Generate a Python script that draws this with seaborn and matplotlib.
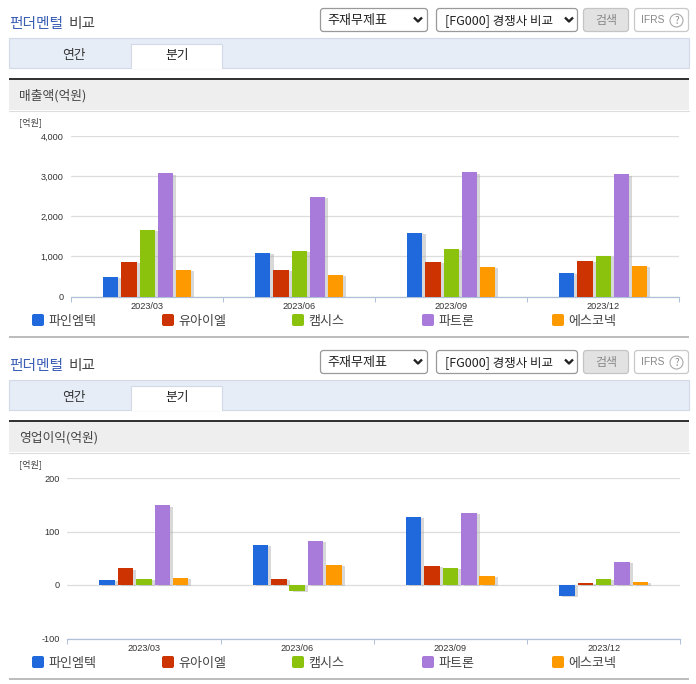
import matplotlib
matplotlib.use("Agg")
import matplotlib.pyplot as plt
import matplotlib.patheffects as pe
from matplotlib.patches import Rectangle, FancyBboxPatch, Circle
import pandas as pd
import seaborn as sns

sns.set_theme(style="white")
plt.rcParams['font.family'] = ['Noto Sans CJK KR', 'DejaVu Sans']

W, H = 696, 684
quarters = ["2023/03", "2023/06", "2023/09", "2023/12"]
companies = ["파인엠텍", "유아이엘", "캠시스", "파트론", "에스코넥"]
colors = ["#2069DD", "#CC3300", "#8AC20E", "#A87AD9", "#FF9900"]

sales_finemtek = [490, 1092, 1592, 592]
sales_uil = [867, 667, 867, 892]
sales_camsys = [1658, 1142, 1192, 1008]
sales_partron = [3067, 2492, 3092, 3042]
sales_esconeck = [667, 542, 742, 767]

op_finemtek = [10, 75, 128, -20]
op_uil = [31, 12, 36, 4]
op_camsys = [12, -11, 32, 12]
op_partron = [149, 83, 135, 43]
op_esconeck = [14, 38, 17, 6]

sales_ticks = [0, 1000, 2000, 3000, 4000]
op_ticks = [-100, 0, 100, 200]


def frame(series):
    rows = []
    for name, vals in zip(companies, series):
        for q, v in zip(quarters, vals):
            rows.append({"quarter": q, "company": name, "value": v})
    return pd.DataFrame(rows)


fig = plt.figure(figsize=(W / 100, H / 100), dpi=100, facecolor="white")
ui = fig.add_axes([0, 0, 1, 1], zorder=0)
ui.set_xlim(0, W)
ui.set_ylim(H, 0)
ui.axis("off")


def rect(x0, y0, x1, y1, fc, ec="none", lw=0):
    ui.add_patch(Rectangle((x0, y0), x1 - x0, y1 - y0, fc=fc, ec=ec, lw=lw))


def rbox(x0, y0, x1, y1, fc, ec, r=3):
    ui.add_patch(FancyBboxPatch((x0 + r, y0 + r), x1 - x0 - 2 * r, y1 - y0 - 2 * r,
                                boxstyle=f"round,pad={r},rounding_size={r}",
                                fc=fc, ec=ec, lw=0.9))


def chevron(x, y):
    ui.plot([x - 4, x, x + 4], [y - 2, y + 2, y - 2], color="#222222", lw=1.7,
            solid_capstyle="butt")


def section(dy, header, foot_y):
    ui.text(9.5, 24 + dy, "펀더멘털", color="#3A5FB5", fontsize=10.6, va="center", ha="left",
            fontweight="medium")
    ui.text(68.5, 24 + dy, "비교", color="#444444", fontsize=10.6, va="center", ha="left",
            fontweight="medium")
    rbox(320.5, 8.5 + dy, 427.5, 31.5 + dy, "white", "#999999")
    ui.text(327, 20.8 + dy, "주재무제표", color="#222222", fontsize=9.4, va="center")
    chevron(418, 19.5 + dy)
    rbox(436.5, 8.5 + dy, 577.5, 31.5 + dy, "white", "#999999")
    ui.text(445, 20.8 + dy, "[FG000] 경쟁사 비교", color="#222222", fontsize=9.0, va="center")
    chevron(569, 19.5 + dy)
    rbox(583.5, 8.5 + dy, 628.5, 31.5 + dy, "#E2E2E2", "#C4C4C4")
    ui.text(606, 20.5 + dy, "검색", color="#888888", fontsize=8.6, va="center", ha="center")
    rbox(634.5, 8.5 + dy, 688.5, 31.5 + dy, "white", "#C8C8C8")
    ui.text(641, 20 + dy, "IFRS", color="#888888", fontsize=7.4, va="center",
            family="Liberation Sans")
    ui.add_patch(Circle((676.5, 20.5 + dy), 6.5, fc="white", ec="#AAAAAA", lw=0.8))
    ui.text(676.5, 20.5 + dy, "?", color="#888888", fontsize=7, va="center", ha="center")

    rect(9, 38 + dy, 688.5, 67.5 + dy, "#E7EDF7", "#D2DAE8", 0.8)
    rect(131, 43.5 + dy, 222, 68 + dy, "white", "#D2DAE8", 0.8)
    rect(131.5, 66 + dy, 221.5, 69 + dy, "white")
    ui.text(74, 55.8 + dy, "연간", color="#333333", fontsize=9.2, va="center", ha="center")
    ui.text(177, 55.8 + dy, "분기", color="#222222", fontsize=9.2, va="center", ha="center")

    rect(9, 78 + dy, 689, 80 + dy, "#333333")
    rect(9, 80 + dy, 689, 110 + dy, "#EEEEEE")
    ui.plot([9, 689], [110.5 + dy, 110.5 + dy], color="#DDDDDD", lw=0.8)
    ui.text(19, 95.8 + dy, header, color="#444444", fontsize=9.2, va="center")
    ui.text(19.5, 122.5 + dy, "[억원]", color="#444444", fontsize=6.6, va="center")

    xs = [32, 162, 292, 422, 552]
    for x, c, name in zip(xs, colors, companies):
        ui.add_patch(FancyBboxPatch((x + 2, 316 + dy), 8, 8,
                                    boxstyle="round,pad=2,rounding_size=2", fc=c, ec="none"))
        ui.text(x + 16.5, 321 + dy, name, color="#444444", fontsize=9.4, va="center")
    rect(9, foot_y, 689, foot_y + 2, "#BDBDBD")


def chart(box, data, ticks, ylim):
    x0, y0, x1, y1 = box
    ax = fig.add_axes([x0 / W, 1 - y1 / H, (x1 - x0) / W, (y1 - y0) / H], zorder=1)
    ax.patch.set_alpha(0)
    sns.barplot(data=data, x="quarter", y="value", hue="company", order=quarters,
                hue_order=companies, palette=colors, width=0.6, gap=0.16, saturation=1,
                errorbar=None, legend=False, ax=ax, zorder=3, linewidth=0, edgecolor="none")
    shadow = [pe.SimplePatchShadow(offset=(2.2, -1.0), shadow_rgbFace="#AAAAAA", alpha=0.45),
              pe.Normal()]
    for p in ax.patches:
        p.set_path_effects(shadow)
    ax.set_xlim(-0.5, 3.5)
    ax.set_ylim(*ylim)
    ax.set_yticks(ticks)
    ax.set_yticklabels([f"{t:,}" for t in ticks], fontsize=6.6, color="#333333",
                       family="Liberation Sans")
    ax.set_xlabel("")
    ax.set_ylabel("")
    ax.grid(axis="y", color="#DDDDDD", lw=0.9, zorder=0)
    ax.set_axisbelow(True)
    ax.tick_params(axis="y", length=0, pad=5.6)
    ax.tick_params(axis="x", which="major", length=0, pad=4, labelsize=6.6, labelcolor="#333333")
    for lab in ax.get_xticklabels():
        lab.set_family("Liberation Sans")
    ax.set_xticks([-0.5, 0.5, 1.5, 2.5, 3.5], minor=True)
    ax.tick_params(axis="x", which="minor", length=3.4, width=0.7, color="#AFC0D8", bottom=True)
    for s in ["top", "left", "right"]:
        ax.spines[s].set_visible(False)
    ax.spines["bottom"].set_color("#AFC0D8")
    ax.spines["bottom"].set_linewidth(0.9)
    return ax


section(0, "매출액(억원)", 336)
section(342, "영업이익(억원)", 678)

sales = frame([sales_finemtek, sales_uil, sales_camsys, sales_partron, sales_esconeck])
op = frame([op_finemtek, op_uil, op_camsys, op_partron, op_esconeck])
chart((71.3, 136, 679.3, 296.5), sales, sales_ticks, (0, 4000))
chart((67.3, 478, 680.3, 638.5), op, op_ticks, (-100, 200))

fig.savefig("out.png", dpi=100, facecolor="white")
